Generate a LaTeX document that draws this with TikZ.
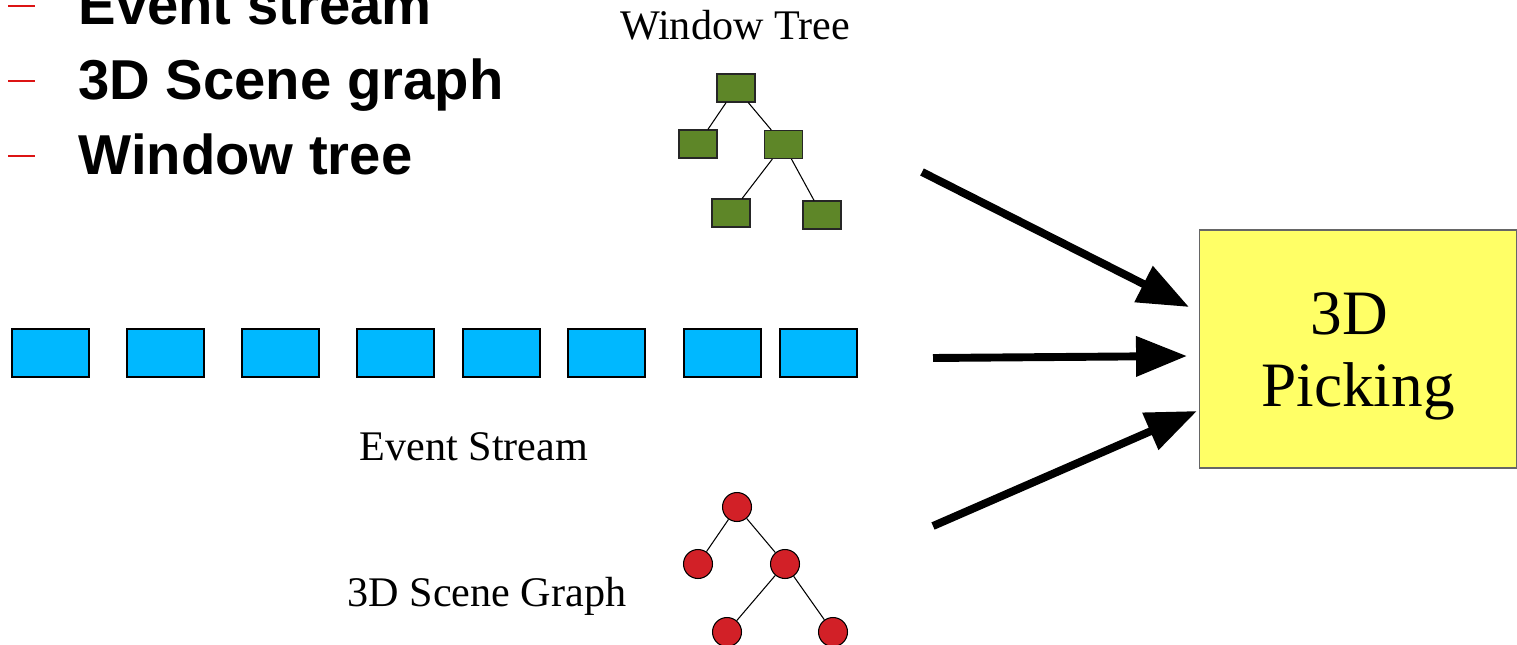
\documentclass[tikz,border=0pt]{standalone}
\usepackage{fontspec}
\setmainfont{Liberation Serif}
\newfontfamily\headfont{Liberation Sans}
\usetikzlibrary{arrows.meta}

\definecolor{wingreen}{RGB}{94,134,40}
\definecolor{evblue}{RGB}{0,184,255}
\definecolor{scenered}{RGB}{210,32,39}
\definecolor{pickyellow}{RGB}{255,255,102}
\definecolor{dashred}{RGB}{220,20,20}

\tikzset{
  winbox/.style={draw=black!85, fill=wingreen, minimum width=0.76cm, minimum height=0.56cm, inner sep=0pt},
  evbox/.style={draw, fill=evblue, minimum width=1.54cm, minimum height=0.96cm, inner sep=0pt},
  scenedot/.style={circle, draw, fill=scenered, minimum size=0.58cm, inner sep=0pt},
  treelabel/.style={font=\fontsize{24}{28}\selectfont, inner sep=0pt},
  headline/.style={anchor=base west, inner sep=0pt, font=\headfont\bfseries\fontsize{32}{38}\selectfont},
  feed/.style={line width=4.5pt, -{Triangle[length=29pt, width=22pt]}},
}

\begin{document}
\begin{tikzpicture}[x=0.02cm, y=-0.02cm, line width=0.6pt]
  \useasboundingbox (0,0) rectangle (1517,645);

  % bullet list (top line runs off the page)
  \foreach \yy in {6,81,156}
    \draw[dashred, line width=1pt] (8,\yy) -- (35,\yy);
  \node[headline] (h1) at (78,25) {Event stream};
  \node[headline] (h2) at (78,100) {3D Scene graph};
  \node[headline] (h3) at (78,175) {Window tree};

  % window tree
  \node[treelabel, anchor=base] (wtlabel) at (735,40) {Window Tree};
  \node[winbox] (w0) at (736,88) {};
  \node[winbox] (w1) at (698,144) {};
  \node[winbox] (w2) at (783.5,144.5) {};
  \node[winbox] (w3) at (731,213) {};
  \node[winbox] (w4) at (822,215) {};
  \draw (w0) -- (w1);
  \draw (w0) -- (w2);
  \draw (w2) -- (w3);
  \draw (w2) -- (w4);

  % event stream
  \foreach \xx [count=\i] in {50.5,165.5,280.5,395.5,501.5,606.5,722.5,818.5}
    \node[evbox] (e\i) at (\xx,353) {};
  \node[treelabel, anchor=base] (eslabel) at (474,460) {Event Stream};

  % scene graph
  \node[treelabel, anchor=base] (sglabel) at (487,606) {3D Scene Graph};
  \node[scenedot] (s0) at (737,507) {};
  \node[scenedot] (s1) at (698,564) {};
  \node[scenedot] (s2) at (785,564) {};
  \node[scenedot] (s3) at (727,632) {};
  \node[scenedot] (s4) at (833,632) {};
  \draw (s0) -- (s1);
  \draw (s0) -- (s2);
  \draw (s2) -- (s3);
  \draw (s2) -- (s4);

  % picking box and the three inputs
  \node[draw=black!60, fill=pickyellow, minimum width=6.36cm, minimum height=4.76cm] (pick) at (1358,349) {};
  \node[align=center, font=\fontsize{36}{41}\selectfont] (picktext) at (1358,356) {3D\hspace*{0.35cm}\\Picking};
  \coordinate (in1) at (922,172);
  \coordinate (in2) at (933,358);
  \coordinate (in3) at (933,526);
  \coordinate (tip1) at (1189,307);
  \coordinate (tip2) at (1187,356);
  \coordinate (tip3) at (1197,411);
  \draw[feed] (in1) -- (tip1);
  \draw[feed] (in2) -- (tip2);
  \draw[feed] (in3) -- (tip3);
\end{tikzpicture}
\end{document}
